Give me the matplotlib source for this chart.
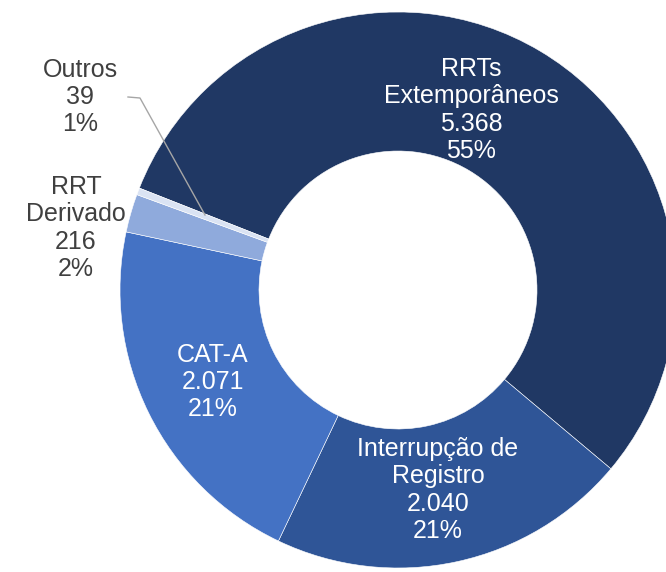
import numpy as np
import matplotlib
matplotlib.use("Agg")
from matplotlib import pyplot as plt

# data (clockwise from upper-left)
categories = ["RRTs\nExtemporâneos", "Interrupção de\nRegistro", "CAT-A", "RRT\nDerivado", "Outros"]
values = [5368, 2040, 2071, 216, 39]
pct_labels = [55, 21, 21, 2, 1]
colors = ["#203864", "#2F5597", "#4472C4", "#8FAADC", "#DAE3F3"]

plt.rcParams['font.family'] = ['Liberation Sans', 'DejaVu Sans']

W, H = 666, 572
cx, cy, R = 398, 290, 278  # donut centre / radius in pixels

fig = plt.figure(figsize=(W / 100, H / 100), dpi=100)
ax = fig.add_axes([0, 0, 1, 1])

ax.pie(values, colors=colors, startangle=158.5, counterclock=False,
       radius=1, wedgeprops=dict(width=0.5, edgecolor="white", linewidth=0.4))

# map the axes so one unit == R pixels, centre at (cx, cy)
ax.set_xlim(-cx / R, (W - cx) / R)
ax.set_ylim(-(H - cy) / R, cy / R)
ax.set_aspect("equal")
ax.axis("off")


def fmt(v):
    return f"{v:,}".replace(",", ".")


def label(i):
    return f"{categories[i]}\n{fmt(values[i])}\n{pct_labels[i]}%"


def px(x, y):
    return x / W, 1 - y / H


# label positions (pixels in the reference)
pos = [(471, 110), (438, 490), (213, 382), (76, 228), (80, 97)]
txt_col = ["white", "white", "white", "#404040", "#404040"]

for i in range(len(values)):
    fig.text(*px(*pos[i]), label(i), ha="center", va="center",
             fontsize=18, color=txt_col[i], linespacing=1.17)

# leader line for Outros
xs = [128, 140, 205]
ys = [97, 98, 215]
fig.add_artist(plt.Line2D([x / W for x in xs], [1 - y / H for y in ys],
                          transform=fig.transFigure, color="#a6a6a6", lw=1))

fig.savefig("out.png", dpi=100)
